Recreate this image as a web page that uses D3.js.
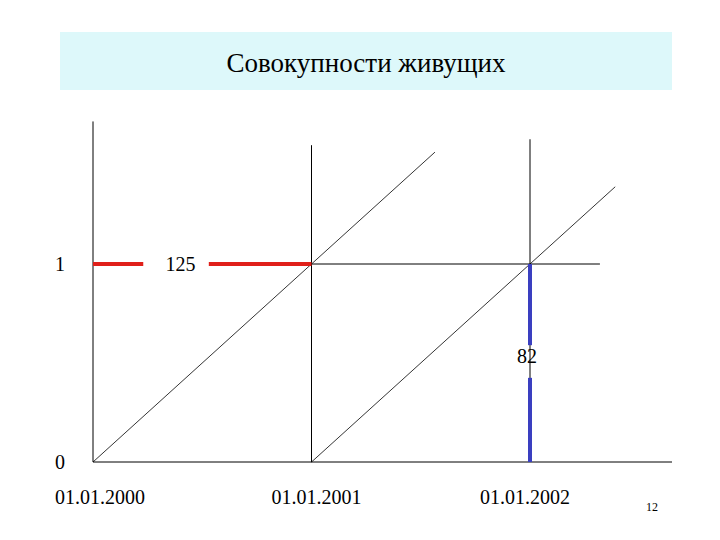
<!DOCTYPE html>
<html><head><meta charset="utf-8">
<script src="https://cdn.jsdelivr.net/npm/d3@7"></script>
<style>body{margin:0;background:#fff} text{font-family:"Liberation Serif","DejaVu Serif",serif}</style></head>
<body><svg id="c" width="720" height="540"></svg>
<script>
const title = "Совокупности живущих";
const years = [2000, 2001, 2002];
const tickLabels = ["01.01.2000", "01.01.2001", "01.01.2002"];
const ageLabels = [1, 0];
const verticalTops = [1.72, 1.6, 1.63];
const diagonals = [[2000, 0, 2001.565, 1.565], [2001, 0, 2002.39, 1.39]];
const redSegments = [[2000, 2000.23], [2000.53, 2001]];
const redLabel = "125";
const blueSegments = [[1, 0.59], [0.425, 0]];
const blueLabel = "82";
const pageNo = "12";

const svg = d3.select("#c");
const x = d3.scaleLinear().domain([2000, 2002]).range([93, 530]);
const y = d3.scaleLinear().domain([0, 1]).range([462, 264]);

svg.append("rect").attr("x", 60).attr("y", 32).attr("width", 612).attr("height", 58).attr("fill", "#ddf8fa");
svg.append("text").attr("x", 366).attr("y", 72).attr("text-anchor", "middle")
  .attr("font-size", 27).text(title);

const g = svg.append("g").attr("stroke", "#000").attr("stroke-width", 1);
years.forEach((yr, i) => g.append("line").attr("x1", x(yr)).attr("x2", x(yr)).attr("y1", y(0)).attr("y2", y(verticalTops[i])));
g.append("line").attr("x1", x(2000)).attr("x2", 672).attr("y1", y(0)).attr("y2", y(0));
g.append("line").attr("x1", x(2001)).attr("x2", x(2002.32)).attr("y1", y(1)).attr("y2", y(1));
diagonals.forEach(d => g.append("line").attr("x1", x(d[0])).attr("y1", y(d[1])).attr("x2", x(d[2])).attr("y2", y(d[3])).attr("stroke-width", 0.8));

redSegments.forEach(s => svg.append("line").attr("x1", x(s[0])).attr("x2", x(s[1])).attr("y1", y(1)).attr("y2", y(1))
  .attr("stroke", "#e0201a").attr("stroke-width", 4));
blueSegments.forEach(s => svg.append("line").attr("x1", x(2002)).attr("x2", x(2002)).attr("y1", y(s[0])).attr("y2", y(s[1]))
  .attr("stroke", "#3a3fc0").attr("stroke-width", 4));

const t = (xx, yy, s, size = 20, anchor = "middle") => svg.append("text").attr("x", xx).attr("y", yy)
  .attr("text-anchor", anchor).attr("font-size", size).text(s);
t(x(2000.4), y(1) + 7, redLabel);
t(x(2002) - 3, y(0.5), blueLabel);
ageLabels.forEach(a => t(60, y(a) + 7, a));
tickLabels.forEach((l, i) => t(x(years[i]) + [7, 5, -5][i], 504, l));
t(652, 511, pageNo, 12);
</script></body></html>
